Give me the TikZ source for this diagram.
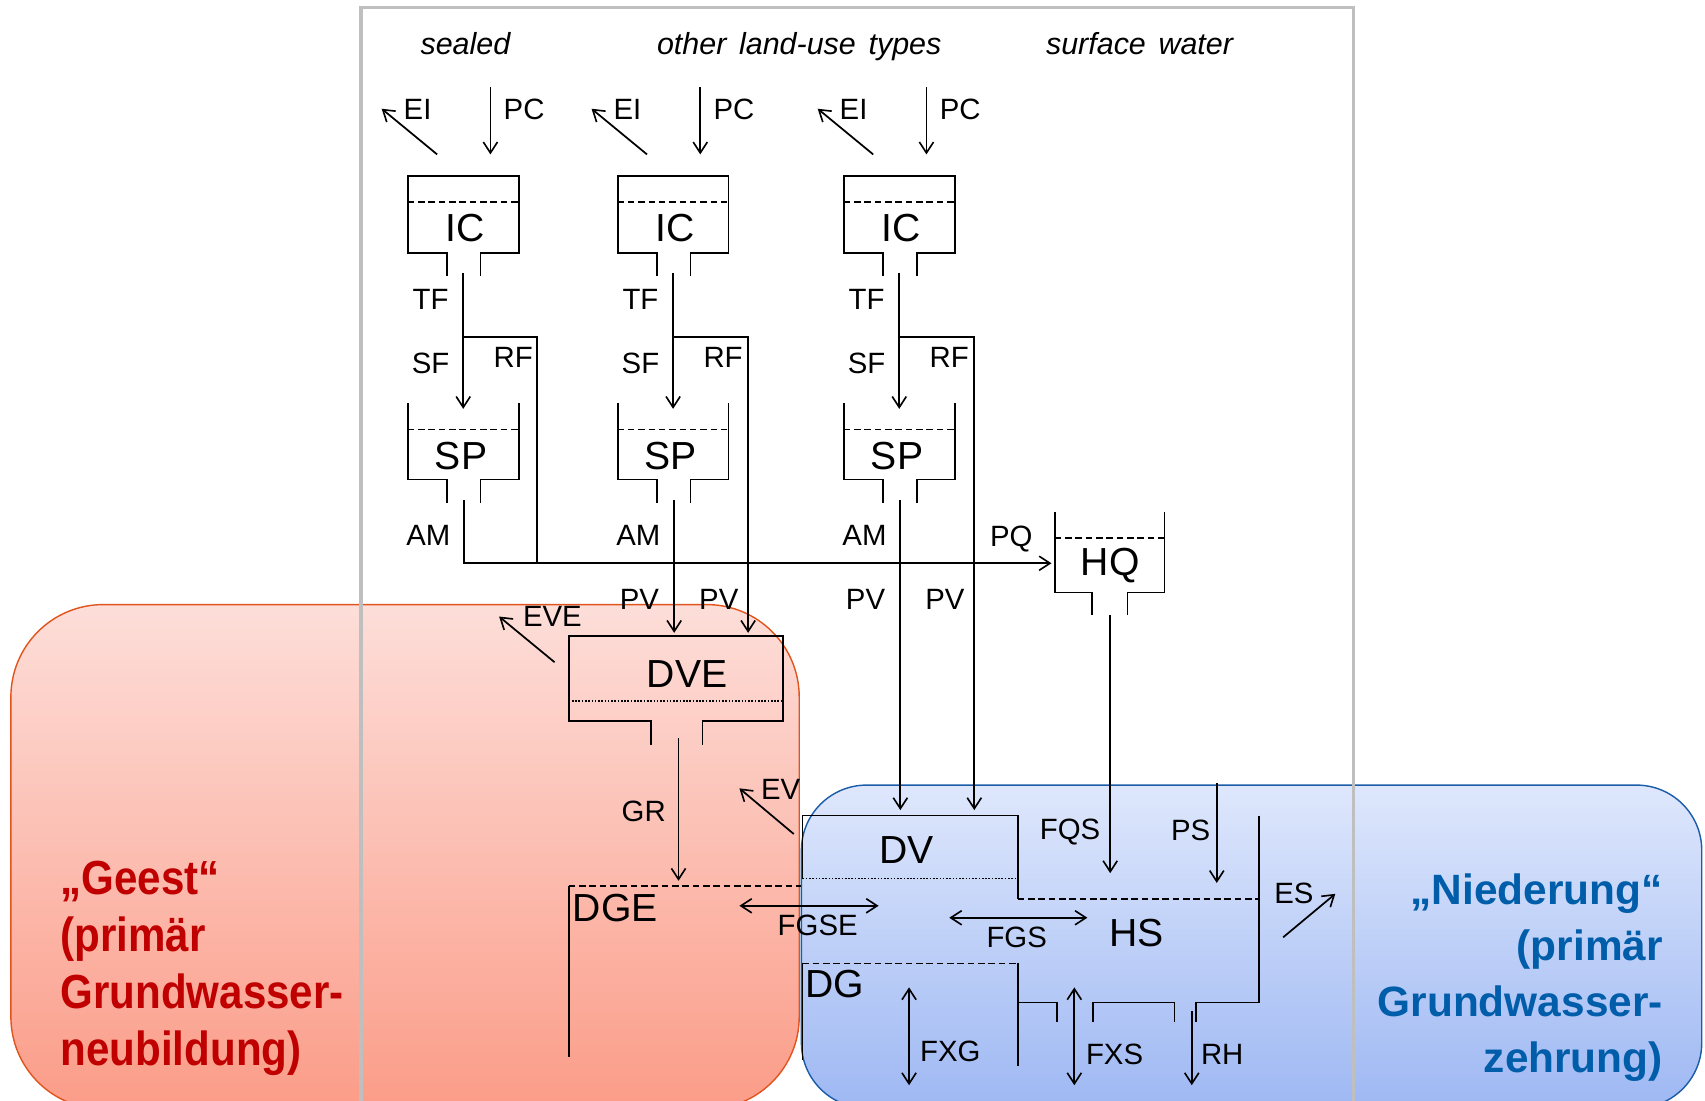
\documentclass[tikz,border=0pt]{standalone}
\usepackage{fontspec}
\setmainfont{Liberation Sans}
\newfontfamily\geestfont[FakeStretch=0.88]{Liberation Sans}
\newfontfamily\hdrfont[WordSpace=1.5]{Liberation Sans}
\usetikzlibrary{arrows.meta}
\definecolor{frameg}{RGB}{191,191,191}
\definecolor{orTop}{RGB}{253,222,217}
\definecolor{orBot}{RGB}{251,156,136}
\definecolor{orLine}{RGB}{226,84,30}
\definecolor{blTop}{RGB}{222,231,252}
\definecolor{blBot}{RGB}{158,184,243}
\definecolor{blLine}{RGB}{26,92,168}
\definecolor{geestred}{RGB}{192,0,0}
\definecolor{niedblue}{RGB}{0,93,170}
\begin{document}
\begin{tikzpicture}[x=1pt,y=-1pt,line width=1.6pt,
  >={Straight Barb[length=10pt,width=13pt,line width=1.5pt]},
  lbl/.style={inner sep=0pt,font=\fontsize{27}{30}\selectfont},
  big/.style={inner sep=0pt,font=\fontsize{36}{40}\selectfont},
  hdr/.style={inner sep=0pt,anchor=base,font=\hdrfont\itshape\fontsize{28}{30}\selectfont},
  dashpat/.style={dash pattern=on 6pt off 3.5pt},
  dotpat/.style={dash pattern=on 1.5pt off 1.5pt},
  twoway/.style={<->}]
\useasboundingbox (0,0) rectangle (1568,1012);

% coloured regions
\path[top color=blTop,bottom color=blBot,draw=blLine,line width=1.3pt,rounded corners=60pt] (737,722) rectangle (1565,1019);
\path[top color=orTop,bottom color=orBot,draw=orLine,line width=1.3pt,rounded corners=85pt] (10,556) rectangle (735,1020);

% frame
\draw[frameg,line width=3pt] (332,1030) -- (332,7) -- (1245,7) -- (1245,1030);

% headers
\node[hdr] (hsealed) at (428,50) {sealed};
\node[hdr] (hother) at (735,50) {other land-use types};
\node[hdr] (hsurf) at (1048,50) {surface water};

% three land-use columns
\foreach \d/\n in {0/a,193/b,401/c}{
  \coordinate (eiS\n) at (402+\d,142);
  \coordinate (eiE\n) at (351+\d,100);
  \draw[->] (eiS\n) -- (eiE\n);
  \node[lbl] (eil\n) at (384+\d,101) {EI};
  \coordinate (pcS\n) at (451+\d,80);
  \coordinate (pcE\n) at (451+\d,142);
  \draw[->] (pcS\n) -- (pcE\n);
  \node[lbl] (pcl\n) at (482+\d,101) {PC};
  \draw (411+\d,254) -- (411+\d,233) -- (375+\d,233) -- (375+\d,162) -- (477+\d,162) -- (477+\d,233) -- (442+\d,233) -- (442+\d,254);
  \draw[dashpat] (375+\d,186) -- (477+\d,186);
  \node[big] (ic\n) at (428+\d,210) {IC};
  \coordinate (tfS\n) at (426+\d,251);
  \coordinate (tfE\n) at (426+\d,376);
  \draw[->] (tfS\n) -- (tfE\n);
  \node[lbl] (tf\n) at (396+\d,275) {TF};
  \node[lbl] (sf\n) at (396+\d,334) {SF};
  \node[lbl] (rf\n) at (472+\d,329) {RF};
  \coordinate (rfS\n) at (426+\d,310);
  \draw (375+\d,371) -- (375+\d,441) -- (411+\d,441) -- (411+\d,463);
  \draw (477+\d,371) -- (477+\d,441) -- (442+\d,441) -- (442+\d,463);
  \draw[dashpat] (375+\d,395) -- (477+\d,395);
  \node[big] (sp\n) at (424+\d,419) {SP};
  \node[lbl] (am\n) at (394+\d,492) {AM};
  \coordinate (amS\n) at (427+\d,460);
}

% flows of column 1 to HQ
\coordinate (rfEa) at (494,518);
\coordinate (hqin) at (967,518);
\draw (rfSa) -| (rfEa);
\draw[->] (amSa) |- (hqin);
% column 2 to DVE
\coordinate (dveR) at (688,582);
\coordinate (dveL) at (620,582);
\draw[->] (rfSb) -| (dveR);
\draw[->] (amSb) -- (dveL);
\node[lbl] (pvb1) at (588,551) {PV};
\node[lbl] (pvb2) at (661,551) {PV};
% column 3 to DV
\coordinate (dvR) at (896,745);
\coordinate (dvL) at (828,745);
\draw[->] (rfSc) -| (dvR);
\draw[->] (amSc) -- (dvL);
\node[lbl] (pvc1) at (796,551) {PV};
\node[lbl] (pvc2) at (869,551) {PV};

% HQ
\draw (970,471) -- (970,545) -- (1004,545) -- (1004,566);
\draw (1071,471) -- (1071,545) -- (1037,545) -- (1037,566);
\draw[dashpat] (970,495) -- (1071,495);
\node[big] (hq) at (1021,520) {HQ};
\node[lbl] (pq) at (930,496) {PQ};
\coordinate (hqS) at (1021,566);
\coordinate (hqE) at (1021,803);
\draw[->] (hqS) -- (hqE);
\node[lbl] (fqs) at (984,765) {FQS};
\coordinate (psS) at (1119,720);
\coordinate (psE) at (1119,812);
\draw[->] (psS) -- (psE);
\node[lbl] (ps) at (1095,764) {PS};

% DVE
\draw (599,685) -- (599,663) -- (523,663) -- (523,585) -- (720,585) -- (720,663) -- (646,663) -- (646,685);
\draw[dotpat] (523,645) -- (720,645);
\node[big] (dve) at (632,620) {DVE};
\coordinate (eveS) at (510,609);
\coordinate (eveE) at (459,567);
\draw[->] (eveS) -- (eveE);
\node[lbl] (eve) at (508,567) {EVE};
\coordinate (grS) at (624,679);
\coordinate (grE) at (624,810);
\draw[->] (grS) -- (grE);
\node[lbl] (gr) at (592,746) {GR};
\coordinate (evS) at (730,767);
\coordinate (evE) at (680,725);
\draw[->] (evS) -- (evE);
\node[lbl] (ev) at (718,726) {EV};

% DGE
\draw[dashpat] (523,815) -- (737,815);
\draw (523,815) -- (523,972);
\node[big,anchor=west] (dge) at (526,835) {DGE};
\coordinate (fgseL) at (680,833);
\coordinate (fgseR) at (808,833);
\draw[twoway] (fgseL) -- (fgseR);
\node[lbl] (fgse) at (752,851) {FGSE};

% DV, HS, DG
\draw (738,808) -- (738,750) -- (936,750) -- (936,827);
\draw[dotpat] (738,808) -- (936,808);
\node[big] (dv) at (834,782) {DV};
\draw[dashpat] (936,827) -- (1158,827);
\draw (1158,750) -- (1158,922) -- (1100,922) -- (1100,940);
\coordinate (fgsL) at (873,844);
\coordinate (fgsR) at (1000,844);
\draw[twoway] (fgsL) -- (fgsR);
\node[lbl] (fgs) at (935,862) {FGS};
\node[big] (hs) at (1045,858) {HS};
\draw[dashpat] (738,886) -- (936,886);
\draw (738,886) -- (738,975);
\draw (936,886) -- (936,980);
\draw (936,922) -- (972,922) -- (972,940);
\draw (1005,940) -- (1005,922) -- (1080,922) -- (1080,940);
\node[big,anchor=west] (dg) at (740,905) {DG};
\coordinate (fxgT) at (836,908);
\coordinate (fxgB) at (836,998);
\draw[twoway] (fxgT) -- (fxgB);
\node[lbl] (fxg) at (874,967) {FXG};
\coordinate (fxsT) at (988,908);
\coordinate (fxsB) at (988,998);
\draw[twoway] (fxsT) -- (fxsB);
\node[lbl] (fxs) at (1025,970) {FXS};
\coordinate (rhS) at (1096,930);
\coordinate (rhE) at (1096,998);
\draw[->] (rhS) -- (rhE);
\node[lbl] (rh) at (1124,970) {RH};
\coordinate (esS) at (1180,862);
\coordinate (esE) at (1228,822);
\draw[->] (esS) -- (esE);
\node[lbl] (es) at (1190,822) {ES};

% region texts
\node[text=geestred,anchor=north west,align=left,inner sep=0pt,
  font=\geestfont\bfseries\fontsize{44}{52.5}\selectfont] (geest) at (55,791)
  {„Geest“\\(primär\\Grundwasser-\\neubildung)};
\node[text=niedblue,anchor=north east,align=right,inner sep=0pt,
  font=\bfseries\fontsize{39}{51.3}\selectfont] (nied) at (1530,803)
  {„Niederung“\\(primär\\Grundwasser-\\zehrung)};
\end{tikzpicture}
\end{document}
